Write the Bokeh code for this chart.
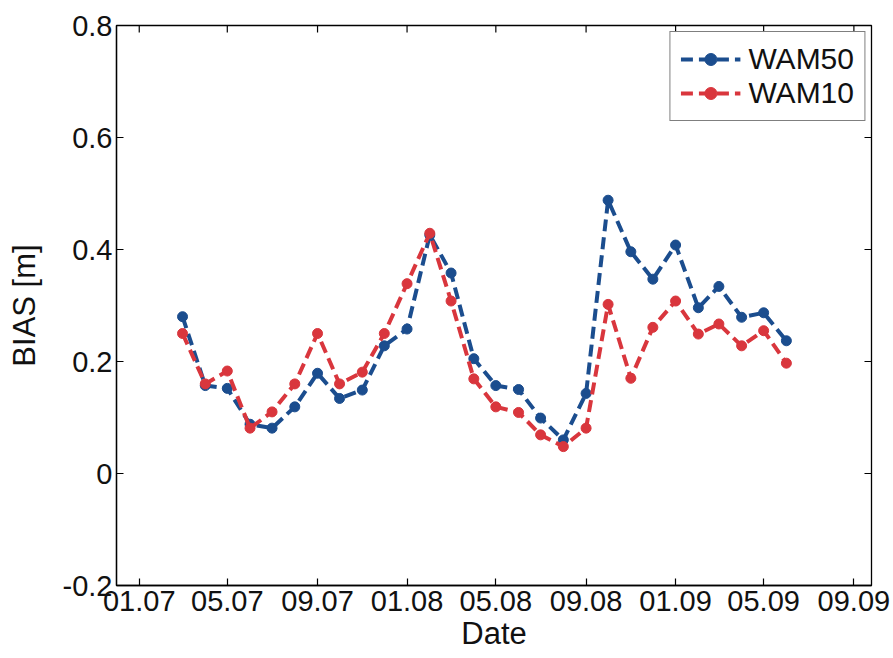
import datetime as dt
from bokeh.plotting import figure
from bokeh.models import (FixedTicker, DatetimeTickFormatter, Range1d, Legend, ColumnDataSource)
from bokeh.embed import file_html
from bokeh.resources import INLINE

# ---- data (monthly, Mar 2007 .. Jun 2009) ----
start_year, start_month, n_months = 2007, 3, 28
wam50 = [0.280, 0.157, 0.152, 0.088, 0.081, 0.119, 0.179, 0.134, 0.149, 0.228,
         0.258, 0.426, 0.358, 0.205, 0.157, 0.150, 0.099, 0.060, 0.143, 0.488,
         0.396, 0.347, 0.408, 0.296, 0.334, 0.279, 0.287, 0.237]
wam10 = [0.250, 0.160, 0.183, 0.081, 0.110, 0.160, 0.250, 0.160, 0.181, 0.250,
         0.339, 0.429, 0.308, 0.169, 0.119, 0.109, 0.069, 0.048, 0.081, 0.302,
         0.170, 0.261, 0.308, 0.249, 0.267, 0.228, 0.255, 0.197]
y_ticks = [-0.2, 0.0, 0.2, 0.4, 0.6, 0.8]
y_tick_labels = ["-0.2", "0", "0.2", "0.4", "0.6", "0.8"]
x_tick_dates = [(2007, 1), (2007, 5), (2007, 9), (2008, 1), (2008, 5), (2008, 9),
                (2009, 1), (2009, 5), (2009, 9)]
x_start, x_end = dt.datetime(2006, 12, 1), dt.datetime(2009, 9, 25)
series_names = ["WAM50", "WAM10"]
series_colors = ["#1b4d8e", "#d9363d"]

dates = []
for i in range(n_months):
    m = start_month - 1 + i
    dates.append(dt.datetime(start_year + m // 12, m % 12 + 1, 1))

def ms(d):
    return (d - dt.datetime(1970, 1, 1)).total_seconds() * 1000.0

x_ticks = [ms(dt.datetime(y, m, 1)) for y, m in x_tick_dates]

FONT = "Liberation Sans"
W, H = 893, 658
BL, BR, BT, BB = 116, 22, 25, 73
TICK = 7  # inward tick length, px

p = figure(width=W, height=H, output_backend="svg", toolbar_location=None,
           x_axis_type="datetime",
           x_range=Range1d(ms(x_start), ms(x_end)),
           y_range=Range1d(y_ticks[0], y_ticks[-1]),
           min_border_left=BL, min_border_right=BR, min_border_top=BT, min_border_bottom=BB)
p.xgrid.visible = False
p.ygrid.visible = False
p.outline_line_color = "black"
p.outline_line_width = 1.3
p.background_fill_color = "white"
p.border_fill_color = "white"

fmt = DatetimeTickFormatter(months="%m.%y", days="%m.%y", years="%m.%y",
                            hours="%m.%y", minutes="%m.%y", seconds="%m.%y",
                            milliseconds="%m.%y", minsec="%m.%y", hourmin="%m.%y")

def style(ax):
    ax.major_tick_in = TICK
    ax.major_tick_out = 0
    ax.minor_tick_line_color = None
    ax.axis_line_color = "black"
    ax.axis_line_width = 1.3
    ax.major_tick_line_color = "black"
    ax.major_tick_line_width = 1.2
    ax.major_label_text_font = FONT
    ax.major_label_text_color = "#111111"
    ax.axis_label_text_font = FONT
    ax.axis_label_text_font_style = "normal"
    ax.axis_label_text_color = "#111111"

xa = p.xaxis[0]
xa.ticker = FixedTicker(ticks=x_ticks)
xa.formatter = fmt
style(xa)
xa.major_label_text_font_size = "29px"
xa.major_label_standoff = 5
xa.axis_label = "Date"
xa.axis_label_text_font_size = "31px"
xa.axis_label_standoff = 2

ya = p.yaxis[0]
ya.ticker = FixedTicker(ticks=y_ticks)
ya.major_label_overrides = {t: l for t, l in zip(y_ticks, y_tick_labels)}
style(ya)
ya.major_label_text_font_size = "29px"
ya.major_label_standoff = 4
ya.axis_label = "BIAS [m]"
ya.axis_label_text_font_size = "31px"
ya.axis_label_standoff = 18

# inward tick marks on the top and right frame edges (mirroring the axis ticks)
frame_w = W - BL - BR
frame_h = H - BT - BB
dy = (y_ticks[-1] - y_ticks[0]) / frame_h * TICK
dx = (ms(x_end) - ms(x_start)) / frame_w * TICK
p.segment(x0=x_ticks, y0=[y_ticks[-1]] * len(x_ticks),
          x1=x_ticks, y1=[y_ticks[-1] - dy] * len(x_ticks),
          line_color="black", line_width=1.2)
p.segment(x0=[ms(x_end)] * len(y_ticks), y0=y_ticks,
          x1=[ms(x_end) - dx] * len(y_ticks), y1=y_ticks,
          line_color="black", line_width=1.2)

items = []
for name, vals, col in zip(series_names, [wam50, wam10], series_colors):
    src = ColumnDataSource(dict(x=dates, y=vals))
    r1 = p.line("x", "y", source=src, line_color=col, line_width=4, line_dash="12 6")
    r2 = p.scatter("x", "y", source=src, size=10, marker="circle",
                   fill_color=col, line_color=col)
    items.append((name, [r1, r2]))

leg = Legend(items=items, location="top_right")
leg.label_text_font = FONT
leg.label_text_font_size = "30px"
leg.label_text_color = "#111111"
leg.border_line_color = "black"
leg.border_line_width = 1.2
leg.glyph_width = 60
leg.glyph_height = 30
leg.label_height = 34
leg.spacing = 0
leg.padding = 10
leg.margin = 6
leg.label_standoff = 8
p.add_layout(leg)

open("out.html", "w").write(file_html(p, INLINE))
